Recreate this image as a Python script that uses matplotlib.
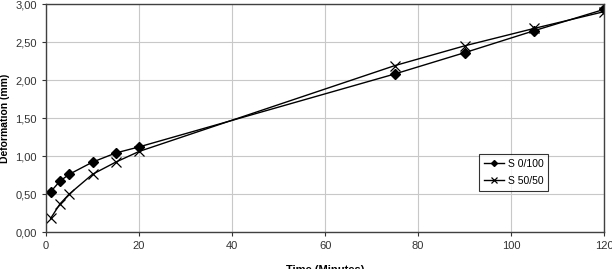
import matplotlib.pyplot as plt
import matplotlib.ticker as mticker

plt.rcParams['font.family'] = ['Liberation Sans', 'DejaVu Sans']

# data
time = [1, 3, 5, 10, 15, 20, 75, 90, 105, 120]
s_0_100 = [0.53, 0.67, 0.76, 0.92, 1.04, 1.12, 2.08, 2.36, 2.65, 2.93]
s_50_50 = [0.18, 0.37, 0.50, 0.76, 0.92, 1.06, 2.19, 2.45, 2.68, 2.90]

fig = plt.figure(figsize=(6.12, 2.69), dpi=100)
ax = fig.add_axes([0.0752, 0.1375, 0.912, 0.8475])

ax.plot(time, s_0_100, color='black', linewidth=1, marker='D', markersize=5, label='S 0/100')
ax.plot(time, s_50_50, color='black', linewidth=1, marker='x', markersize=7, markeredgewidth=0.9, label='S 50/50')

ax.set_xlim(0, 120)
ax.set_ylim(0, 3)
ax.set_xticks(range(0, 121, 20))
ax.set_yticks([i * 0.5 for i in range(7)])
ax.yaxis.set_major_formatter(mticker.FuncFormatter(lambda v, p: f'{v:.2f}'.replace('.', ',')))
ax.tick_params(labelsize=8, length=3, colors='#333333')
ax.grid(color='#c8c8c8', linewidth=0.8)
ax.set_axisbelow(True)
for s in ax.spines.values():
    s.set_color('#404040')
    s.set_linewidth(1)

ax.set_xlabel('Time (Minutes)', fontsize=8, fontweight='bold', labelpad=10)
ax.set_ylabel('Deformation (mm)', fontsize=7.5, fontweight='bold', labelpad=4)

leg = ax.legend(loc='upper left', bbox_to_anchor=(0.776, 0.342), borderaxespad=0, fontsize=7.5,
                frameon=True, fancybox=False, edgecolor='black', handlelength=1.9,
                handletextpad=0.4, borderpad=0.45, labelspacing=0.7, markerscale=0.6)
leg.get_frame().set_linewidth(0.8)

fig.savefig('out.png', dpi=100)
